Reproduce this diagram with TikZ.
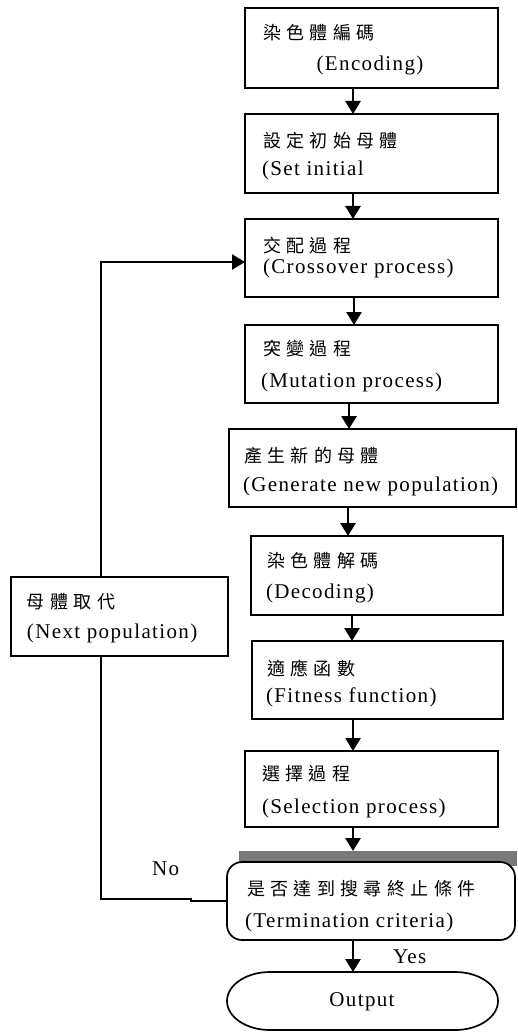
\documentclass[tikz,border=0pt]{standalone}
\usepackage{fontspec}
\setmainfont{Liberation Serif}[LetterSpace=6.5]
\newfontfamily\cjk{Noto Sans CJK TC}[LetterSpace=30]
\usetikzlibrary{arrows.meta,calc}
\tikzset{
  box/.style={draw, line width=1.7pt, inner sep=0pt, outer sep=0pt, fill=white},
  txt/.style={inner sep=0pt, outer sep=0pt, font=\fontsize{21}{24}\selectfont},
  ctxt/.style={inner sep=0pt, outer sep=0pt, font=\cjk\fontsize{18}{22}\selectfont},
  arr/.style={line width=2.8pt, -{Triangle[width=15pt,length=13pt]}},
  thinline/.style={line width=1.6pt},
}
\begin{document}
\begin{tikzpicture}[x=1pt,y=-1pt]
\useasboundingbox (0,0) rectangle (517,1032);
% boxes
\node[box, minimum width=253, minimum height=80] (b1) at (371.5,48) {};
\node[box, minimum width=253, minimum height=79] (b2) at (371.5,153.5) {};
\node[box, minimum width=253, minimum height=78] (b3) at (371.5,258) {};
\node[box, minimum width=253, minimum height=78] (b4) at (371.5,364) {};
\node[box, minimum width=287, minimum height=78] (b5) at (372.5,468) {};
\node[box, minimum width=252, minimum height=79] (b6) at (377,575.5) {};
\node[box, minimum width=251, minimum height=78] (b7) at (377.5,680) {};
\node[box, minimum width=253, minimum height=76] (b8) at (371.5,789) {};
\node[box, minimum width=217, minimum height=79] (lb) at (119.5,616.5) {};
% gray bar and termination box
\fill[gray!95!black] (239,851) rectangle (517,866);
\node[box, rounded corners=15pt, minimum width=288, minimum height=78] (term) at (371,901) {};
% output stadium
\draw[line width=1.7pt, fill=white] (270,972) -- (455,972) arc (-90:90:43 and 29) -- (270,1030) arc (90:270:43 and 29) -- cycle;
\node[txt] (out) at (362,1002) {Output};
% texts
\node[ctxt, anchor=west] (t1a) at (263,33) {染色體編碼};
\node[txt] (t1b) at (370,65) {(Encoding)};
\node[ctxt, anchor=west] (t2a) at (263,141) {設定初始母體};
\node[txt, anchor=west] (t2b) at (262,170) {(Set initial};
\node[ctxt, anchor=west] (t3a) at (263,246) {交配過程};
\node[txt, anchor=west] (t3b) at (263,268) {(Crossover process)};
\node[ctxt, anchor=west] (t4a) at (263,349) {突變過程};
\node[txt, anchor=west] (t4b) at (261,382) {(Mutation process)};
\node[ctxt, anchor=west] (t5a) at (244,456) {產生新的母體};
\node[txt, anchor=west] (t5b) at (243,486) {(Generate new population)};
\node[ctxt, anchor=west] (t6a) at (267,561) {染色體解碼};
\node[txt, anchor=west] (t6b) at (266,593) {(Decoding)};
\node[ctxt, anchor=west] (t7a) at (267,668) {適應函數};
\node[txt, anchor=west] (t7b) at (266,697) {(Fitness function)};
\node[ctxt, anchor=west] (t8a) at (262,774) {選擇過程};
\node[txt, anchor=west] (t8b) at (262,808) {(Selection process)};
\node[ctxt, anchor=west] (t9a) at (247,889) {是否達到搜尋終止條件};
\node[txt, anchor=west] (t9b) at (245,922) {(Termination criteria)};
\node[ctxt, anchor=west] (tla) at (27,602) {母體取代};
\node[txt, anchor=west] (tlb) at (27,633) {(Next population)};
\node[txt, anchor=west] (yes) at (393,957) {Yes};
\node[txt, anchor=west] (no) at (152,869) {No};
% arrow x positions
\coordinate (c1) at (353,0);
\coordinate (c3) at (354,0);
\coordinate (c4) at (349,0);
\coordinate (c5) at (348,0);
\coordinate (c6) at (352,0);
\coordinate (fb) at (101,0);
\coordinate (gb) at (0,851);
\coordinate (ot) at (0,972);
% arrows
\draw[arr] (b1.south -| c1) -- (b2.north -| c1);
\draw[arr] (b2.south -| c1) -- (b3.north -| c1);
\draw[arr] (b3.south -| c3) -- (b4.north -| c3);
\draw[arr] (b4.south -| c4) -- (b5.north -| c4);
\draw[arr] (b5.south -| c5) -- (b6.north -| c5);
\draw[arr] (b6.south -| c6) -- (b7.north -| c6);
\draw[arr] (b7.south -| c1) -- (b8.north -| c1);
\draw[arr] (b8.south -| c1) -- (gb -| c1);
\draw[arr] (term.south -| c1) -- (ot -| c1);
% feedback
\draw[line width=2.4pt, -{Triangle[width=15pt,length=13pt]}] (lb.north -| fb) |- ([yshift=-4pt]b3.west);
\draw[thinline] (term.west) -- ++(-36,0) -- ++(0,-2) -| (lb.south -| fb);
\end{tikzpicture}
\end{document}
